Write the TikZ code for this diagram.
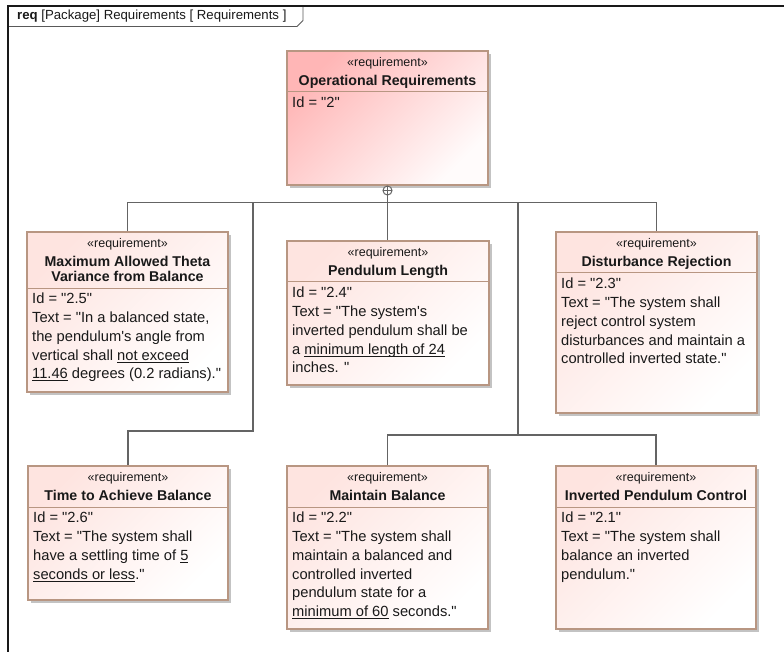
\documentclass[tikz,border=0pt]{standalone}
\usepackage{fontspec}
\setmainfont{Liberation Sans}[Ligatures=TeXOff]
\usetikzlibrary{fit,shadows,calc}

% underlined phrase with a fixed rule depth
\newcommand\ulword[1]{\setbox0\hbox{#1}\rlap{\rule[-2.3pt]{\wd0}{0.8pt}}\box0\relax}

\definecolor{opred}{RGB}{255,182,182}
\definecolor{reqpink}{RGB}{254,228,224}
\definecolor{boxedge}{RGB}{184,150,130}
\definecolor{wire}{RGB}{100,100,100}
\definecolor{ink}{RGB}{25,25,25}
\definecolor{shadowgray}{RGB}{195,195,195}

\tikzset{
  reqframe/.style={draw=boxedge, line width=1.2pt, inner sep=0pt,
    drop shadow={shadow xshift=3pt, shadow yshift=-3pt, fill=shadowgray, opacity=1}},
  plainreq/.style={reqframe, top color=reqpink, bottom color=white, shading angle=45},
  rootreq/.style={reqframe, top color=opred, bottom color=white!95!opred, shading angle=45},
  boxline/.style={draw=boxedge, line width=1pt},
  stereo/.style={font=\fontsize{12.5}{15}\selectfont, text=ink, inner sep=0pt},
  titletext/.style={font=\fontsize{14.2}{15}\selectfont\bfseries, text=ink, align=center, inner sep=0pt},
  bodytext/.style={font=\fontsize{14.7}{18.8}\selectfont, text=ink, align=left, inner sep=0pt},
  wireline/.style={draw=wire, line width=1.2pt},
  hubmark/.style={circle, draw=wire, fill=white, line width=1pt, minimum size=9pt, inner sep=0pt,
    path picture={\draw[wire, line width=0.9pt]
      (path picture bounding box.north) -- (path picture bounding box.south)
      (path picture bounding box.west) -- (path picture bounding box.east);}},
}

% requirement box: name, left, top, right, bottom, divider y, style, title, body
\newcommand\reqbox[9]{%
  \node[#7, fit={(#2,#3) (#4,#5)}] (#1) {};
  \draw[boxline] (#2,#6) -- (#4,#6);
  \node[stereo, anchor=base] (#1-st) at ($(#1.north)+(0,16)$) {«requirement»};
  \node[titletext, anchor=north] (#1-ti) at ($(#1.north)+(0,24)$) {\strut #8};
  \node[bodytext, anchor=north west] (#1-tx) at ($(#2,#6)+(5,2.3)$) {\strut #9};
}

\begin{document}
\begin{tikzpicture}[x=1pt,y=-1pt]
\useasboundingbox (0,0) rectangle (784,652);
\fill[white] (0,0) rectangle (784,652);

% diagram frame and name tab
\draw[line width=2.4pt, black!90] (7.8,652) -- (7.8,6) -- (784,6);
\draw[black!65, line width=0.9pt] (9,26.5) -- (297,26.5) -- (303,20.5) -- (303,7);
\node[font=\fontsize{13.2}{15}\selectfont, text=ink, anchor=base west, inner sep=0pt] (hdr)
  at (17,19.5) {\textbf{req} [Package] Requirements [ Requirements ]};

% requirements
\reqbox{r2}{287}{51}{488}{185}{92}{rootreq}{Operational Requirements}{Id = "2"}
\reqbox{r25}{27}{232}{228}{392}{288}{plainreq}{Maximum Allowed Theta\\Variance from Balance}%
  {Id = "2.5"\\Text = "In a balanced state,\\the pendulum's angle from\\vertical shall \ulword{not exceed}\\\ulword{11.46} degrees (0.2 radians)."}
\reqbox{r24}{287}{241}{489}{385}{282}{plainreq}{Pendulum Length}%
  {Id = "2.4"\\Text = "The system's\\inverted pendulum shall be\\a \ulword{minimum length of 24}\\inches. "}
\reqbox{r23}{556}{232}{757}{413}{273}{plainreq}{Disturbance Rejection}%
  {Id = "2.3"\\Text = "The system shall\\reject control system\\disturbances and maintain a\\controlled inverted state."}
\reqbox{r26}{28}{466}{228}{600}{507}{plainreq}{Time to Achieve Balance}%
  {Id = "2.6"\\Text = "The system shall\\have a settling time of \ulword{5}\\\ulword{seconds or less}."}
\reqbox{r22}{287}{466}{488}{629}{507}{plainreq}{Maintain Balance}%
  {Id = "2.2"\\Text = "The system shall\\maintain a balanced and\\controlled inverted\\pendulum state for a\\\ulword{minimum of 60} seconds."}
\reqbox{r21}{556}{466}{756}{629}{507}{plainreq}{Inverted Pendulum Control}%
  {Id = "2.1"\\Text = "The system shall\\balance an inverted\\pendulum."}

% containment tree
\node[hubmark] (hub) at (387.5,190.5) {};
\coordinate (j1) at (253,203);
\coordinate (k1) at (253,431);
\coordinate (j2) at (518,203);
\coordinate (k2) at (518,435);
\draw[wireline] (hub.south) -- (hub.south |- r24.north);
\draw[wireline] (r25.north) -- ++(0,-29) -| (r23.north);
\draw[wireline] (j1) -- (k1) -| (r26.north);
\draw[wireline] (j2) -- (k2);
\draw[wireline] (r22.north) |- (k2) -| (r21.north);
\end{tikzpicture}
\end{document}
